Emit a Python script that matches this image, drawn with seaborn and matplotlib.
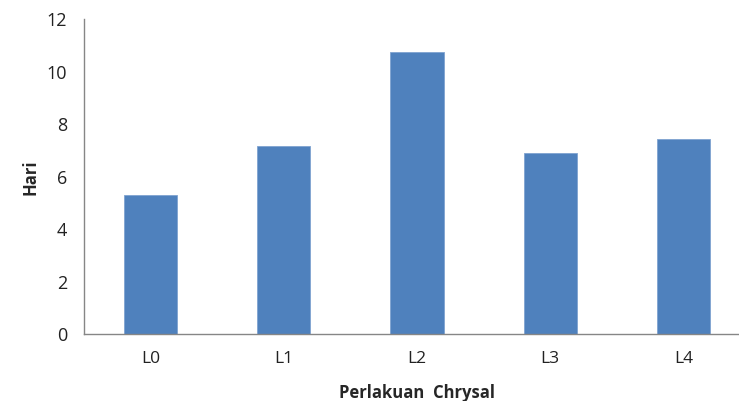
import matplotlib
matplotlib.use("Agg")
import matplotlib.pyplot as plt
import seaborn as sns
import pandas as pd

categories = ["L0", "L1", "L2", "L3", "L4"]
values = [5.31, 7.17, 10.74, 6.90, 7.43]
yticks = [0, 2, 4, 6, 8, 10, 12]

sns.set_style("white")
plt.rcParams['font.family'] = ['Open Sans', 'DejaVu Sans']

df = pd.DataFrame({"cat": categories, "val": values})

fig = plt.figure(figsize=(7.39, 4.01), dpi=100)
ax = fig.add_axes([0.1137, 0.1663, 1.015 - 0.1137, 0.952 - 0.1663])
sns.barplot(data=df, x="cat", y="val", color="#4F81BD", saturation=1,
            width=0.4, edgecolor="#7FA3D0", linewidth=0.6, ax=ax)

ax.set_ylim(0, 12)
ax.set_yticks(yticks)
ax.set_yticklabels([str(t) for t in yticks], fontsize=13, color="#222222")
ax.set_xlim(-0.5, 4.5)
ax.tick_params(axis="x", length=0, labelsize=12.5, labelcolor="#222222", pad=12)
ax.tick_params(axis="y", length=6, width=1, color="#868686", direction="out", pad=6)

for s in ["top", "right"]:
    ax.spines[s].set_visible(False)
for s in ["left", "bottom"]:
    ax.spines[s].set_color("#868686")
    ax.spines[s].set_linewidth(1)

ax.set_xlabel("Perlakuan  Chrysal", fontsize=12, fontweight="bold", labelpad=12)
ax.set_ylabel("Hari", fontsize=12, fontweight="bold", labelpad=5)

fig.savefig("out.png", dpi=100)
